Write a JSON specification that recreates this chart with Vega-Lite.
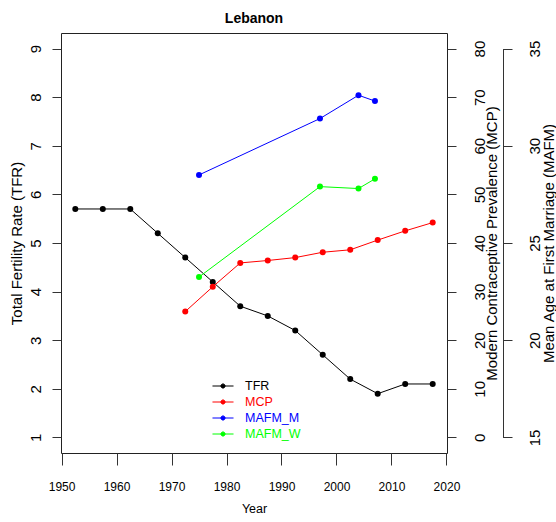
{
  "$schema": "https://vega.github.io/schema/vega-lite/v6.json",
  "width": 386,
  "height": 420,
  "autosize": "none",
  "padding": {"left": 61, "top": 33, "right": 109, "bottom": 69},
  "background": "white",
  "title": {
    "text": "Lebanon",
    "font": "Liberation Sans",
    "fontSize": 14,
    "fontWeight": "bold",
    "color": "black",
    "anchor": "middle",
    "frame": "group",
    "baseline": "alphabetic",
    "offset": -4
  },
  "config": {
    "view": {"stroke": "#222222", "strokeWidth": 1},
    "axis": {
      "grid": false,
      "tickColor": "#333333",
      "labelColor": "black",
      "titleColor": "black",
      "titleFontWeight": "normal",
      "labelFlush": false,
      "labelOverlap": false
    }
  },
  "data": {
    "values": [
      {"year": 1952.5, "series": "TFR", "value": 5.7},
      {"year": 1957.5, "series": "TFR", "value": 5.7},
      {"year": 1962.5, "series": "TFR", "value": 5.7},
      {"year": 1967.5, "series": "TFR", "value": 5.2},
      {"year": 1972.5, "series": "TFR", "value": 4.7},
      {"year": 1977.5, "series": "TFR", "value": 4.2},
      {"year": 1982.5, "series": "TFR", "value": 3.7},
      {"year": 1987.5, "series": "TFR", "value": 3.5},
      {"year": 1992.5, "series": "TFR", "value": 3.2},
      {"year": 1997.5, "series": "TFR", "value": 2.7},
      {"year": 2002.5, "series": "TFR", "value": 2.2},
      {"year": 2007.5, "series": "TFR", "value": 1.9},
      {"year": 2012.5, "series": "TFR", "value": 2.1},
      {"year": 2017.5, "series": "TFR", "value": 2.1},
      {"year": 1972.5, "series": "MCP", "value": 25.9},
      {"year": 1977.5, "series": "MCP", "value": 31.0},
      {"year": 1982.5, "series": "MCP", "value": 35.9},
      {"year": 1987.5, "series": "MCP", "value": 36.4},
      {"year": 1992.5, "series": "MCP", "value": 37.0},
      {"year": 1997.5, "series": "MCP", "value": 38.1},
      {"year": 2002.5, "series": "MCP", "value": 38.6},
      {"year": 2007.5, "series": "MCP", "value": 40.6},
      {"year": 2012.5, "series": "MCP", "value": 42.5},
      {"year": 2017.5, "series": "MCP", "value": 44.2},
      {"year": 1975, "series": "MAFM_M", "value": 28.5},
      {"year": 1997, "series": "MAFM_M", "value": 31.4},
      {"year": 2004, "series": "MAFM_M", "value": 32.6},
      {"year": 2007, "series": "MAFM_M", "value": 32.3},
      {"year": 1975, "series": "MAFM_W", "value": 23.25},
      {"year": 1997, "series": "MAFM_W", "value": 27.9},
      {"year": 2004, "series": "MAFM_W", "value": 27.8},
      {"year": 2007, "series": "MAFM_W", "value": 28.3}
    ]
  },
  "encoding": {
    "x": {
      "field": "year",
      "type": "quantitative",
      "scale": {"domain": [1949.9, 2020.1], "nice": false, "zero": false},
      "axis": {
        "values": [1950, 1960, 1970, 1980, 1990, 2000, 2010, 2020],
        "format": "d",
        "domain": false,
        "tickSize": 12,
        "labelFont": "Liberation Sans",
        "labelFontSize": 12,
        "labelPadding": 16,
        "title": "Year",
        "titleFont": "Liberation Sans",
        "titleFontSize": 12.5,
        "titlePadding": 10
      }
    },
    "color": {
      "field": "series",
      "type": "nominal",
      "scale": {
        "domain": ["TFR", "MCP", "MAFM_M", "MAFM_W"],
        "range": ["#000000", "#ff0000", "#0000ff", "#00ff00"]
      },
      "legend": {
        "orient": "none",
        "legendX": 153,
        "legendY": 344,
        "title": null,
        "padding": 0,
        "rowPadding": 0,
        "symbolType": "M-1.26,0H1.26M-0.25,0A0.25,0.25,0,1,0,0.25,0A0.25,0.25,0,1,0,-0.25,0Z",
        "symbolSize": 279,
        "symbolStrokeWidth": 1,
        "labelFont": "Liberation Sans",
        "labelFontSize": 12.5,
        "labelOffset": 13,
        "labelLimit": 200,
        "encode": {
          "labels": {"update": {"fill": {"scale": "color", "field": "value"}}},
          "symbols": {
            "update": {
              "fill": {"scale": "color", "field": "value"},
              "stroke": {"scale": "color", "field": "value"},
              "opacity": {"value": 1}
            }
          }
        }
      }
    }
  },
  "layer": [
    {
      "transform": [{"filter": "datum.series === 'TFR'"}],
      "encoding": {
        "y": {
          "field": "value",
          "type": "quantitative",
          "scale": {"domain": [0.68, 9.32], "nice": false, "zero": false},
          "axis": {
            "orient": "left",
            "values": [1, 2, 3, 4, 5, 6, 7, 8, 9],
            "domain": false,
            "tickSize": 9,
            "labelAngle": -90,
            "labelAlign": "center",
            "labelBaseline": "alphabetic",
            "labelPadding": 12,
            "labelFont": "Liberation Sans",
            "labelFontSize": 15,
            "title": "Total Fertility Rate (TFR)",
            "titleFont": "Liberation Sans",
            "titleFontSize": 15,
            "titleAngle": -90,
            "titleBaseline": "alphabetic",
            "titlePadding": 7
          }
        }
      },
      "layer": [
        {"mark": {"type": "line", "strokeWidth": 1}},
        {"mark": {"type": "point", "filled": true, "size": 36, "opacity": 1}}
      ]
    },
    {
      "transform": [{"filter": "datum.series === 'MCP'"}],
      "encoding": {
        "y": {
          "field": "value",
          "type": "quantitative",
          "scale": {"domain": [-3.2, 83.2], "nice": false, "zero": false},
          "axis": {
            "orient": "right",
            "values": [0, 10, 20, 30, 40, 50, 60, 70, 80],
            "domain": false,
            "tickSize": 9,
            "labelAngle": -90,
            "labelAlign": "center",
            "labelBaseline": "alphabetic",
            "labelPadding": 28,
            "labelFont": "Liberation Sans",
            "labelFontSize": 15,
            "title": "Modern Contraceptive Prevalence (MCP)",
            "titleFont": "Liberation Sans",
            "titleFontSize": 15,
            "titleAngle": -90,
            "titleBaseline": "alphabetic",
            "titlePadding": 9
          }
        }
      },
      "layer": [
        {"mark": {"type": "line", "strokeWidth": 1}},
        {"mark": {"type": "point", "filled": true, "size": 36, "opacity": 1}}
      ]
    },
    {
      "transform": [{"filter": "datum.series === 'MAFM_M' || datum.series === 'MAFM_W'"}],
      "encoding": {
        "y": {
          "field": "value",
          "type": "quantitative",
          "scale": {"domain": [14.2, 35.8], "nice": false, "zero": false},
          "axis": {
            "orient": "right",
            "offset": 56,
            "values": [15, 20, 25, 30, 35],
            "domain": true,
            "domainColor": "#333333",
            "domainDash": [0, 15.56, 388.89, 15.56],
            "tickSize": 9,
            "labelAngle": -90,
            "labelAlign": "center",
            "labelBaseline": "alphabetic",
            "labelPadding": 27,
            "labelFont": "Liberation Sans",
            "labelFontSize": 15,
            "title": "Mean Age at First Marriage (MAFM)",
            "titleFont": "Liberation Sans",
            "titleFontSize": 15,
            "titleAngle": -90,
            "titleBaseline": "alphabetic",
            "titlePadding": 11.5
          }
        }
      },
      "layer": [
        {"mark": {"type": "line", "strokeWidth": 1}},
        {"mark": {"type": "point", "filled": true, "size": 36, "opacity": 1}}
      ]
    }
  ],
  "resolve": {"scale": {"y": "independent"}}
}
